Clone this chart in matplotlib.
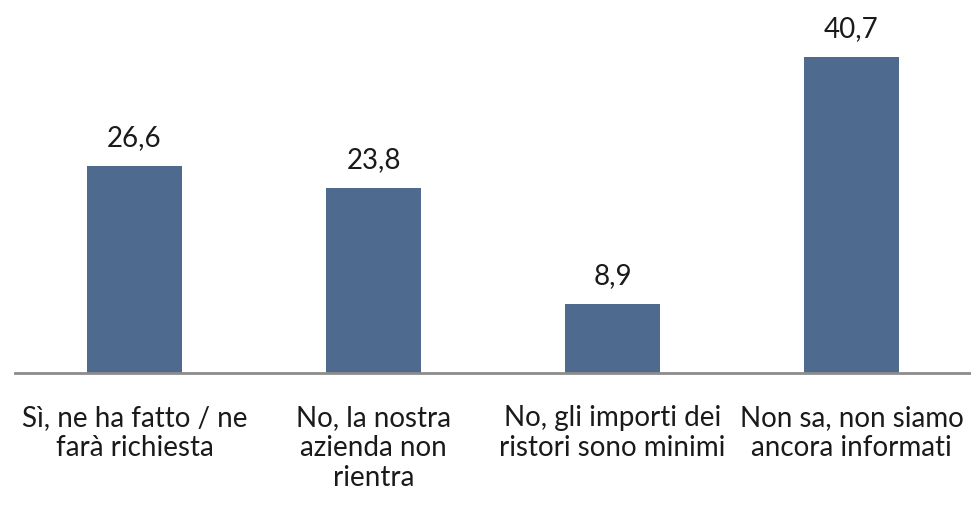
import matplotlib
matplotlib.use("Agg")
import matplotlib.pyplot as plt

categories = ["Sì, ne ha fatto / ne\nfarà richiesta",
              "No, la nostra\nazienda non\nrientra",
              "No, gli importi dei\nristori sono minimi",
              "Non sa, non siamo\nancora informati"]
values = [26.6, 23.8, 8.9, 40.7]
value_labels = ["26,6", "23,8", "8,9", "40,7"]

plt.rcParams['font.family'] = ['Lato', 'DejaVu Sans']

fig = plt.figure(figsize=(9.71, 5.05), dpi=100)
ax = fig.add_axes([15/971, 0.2614, 956/971, 0.6923])
x = range(len(categories))
bars = ax.bar(x, values, width=0.4, color="#4F6A8F")
ax.set_xlim(-0.5, 3.5)
ax.set_ylim(0, 45)
for xi, v, lab in zip(x, values, value_labels):
    ax.annotate(lab, (xi, v), xytext=(0, 28), textcoords="offset pixels",
                ha="center", va="center", fontsize=20, color="#1a1a1a")
for s in ["top", "right", "left"]:
    ax.spines[s].set_visible(False)
ax.spines["bottom"].set_color("#8c8c8c")
ax.spines["bottom"].set_linewidth(2)
ax.set_yticks([])
ax.set_xticks(list(x))
ax.set_xticklabels(categories, fontsize=20, color="#1a1a1a", linespacing=1.2, va="top")
ax.tick_params(axis="x", length=0, pad=23)
fig.savefig("out.png", dpi=100)
